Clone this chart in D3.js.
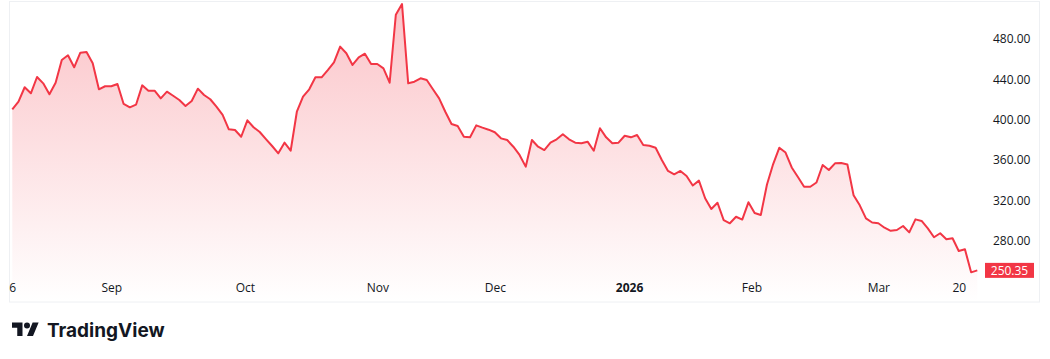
<!DOCTYPE html>
<html lang="en">
<head>
<meta charset="utf-8">
<title>Price chart</title>
<script src="https://cdn.jsdelivr.net/npm/d3@7"></script>
<style>
  body { margin: 0; background: #fff; }
  svg { display: block; font-family: "Open Sans", Roboto, sans-serif; }
  .axis text { fill: #131722; font-size: 12px; }
</style>
</head>
<body>
<script>
// daily closes
var prices = [
  410.2, 417.8, 432.1, 426.1, 442.3, 436.0, 425.1, 436.6, 459.2, 463.8,
  451.9, 466.4, 467.1, 455.9, 430.1, 433.1, 433.1, 435.3, 415.5, 412.2,
  414.8, 434.0, 428.7, 428.7, 421.1, 427.7, 423.7, 419.5, 413.5, 418.5,
  430.7, 424.4, 420.2, 412.8, 404.6, 390.4, 389.7, 383.0, 399.3, 392.4,
  387.7, 380.7, 373.8, 366.5, 377.1, 369.1, 407.8, 422.7, 430.1, 442.0,
  442.0, 449.2, 456.9, 472.4, 465.8, 454.2, 461.8, 465.4, 455.2, 455.2,
  450.9, 436.6, 504.1, 514.7, 436.0, 437.6, 441.0, 439.3, 430.1, 421.1,
  407.8, 395.6, 393.6, 383.0, 382.4, 394.3, 392.0, 390.0, 387.4, 381.4,
  379.7, 373.1, 364.9, 353.3, 379.7, 373.1, 369.8, 377.1, 380.4, 385.4,
  380.4, 377.1, 376.5, 378.1, 369.1, 391.4, 382.4, 376.5, 377.1, 384.0,
  382.4, 384.7, 374.8, 374.1, 372.1, 359.9, 349.0, 345.7, 349.0, 344.0,
  334.6, 339.4, 321.9, 311.3, 317.5, 300.3, 297.1, 303.6, 300.8, 317.9,
  307.3, 305.3, 335.6, 355.9, 372.1, 367.3, 352.5, 343.0, 333.4, 333.3,
  337.6, 354.9, 350.0, 356.6, 356.9, 355.4, 324.9, 314.9, 302.0, 297.9,
  297.1, 292.7, 289.6, 290.4, 294.4, 288.1, 301.0, 299.4, 292.1, 283.2,
  287.2, 281.2, 282.2, 269.6, 271.3, 248.4, 250.35
];

var yTicks = [280, 320, 360, 400, 440, 480];
var xTickIdx = [0, 16, 37.6, 59, 78, 99.7, 119.5, 140, 153];
var xTickLabels = ["6", "Sep", "Oct", "Nov", "Dec", "2026", "Feb", "Mar", "20"];
var boldLabels = ["2026"];

var w = 1050, h = 359;
var red = "#f23645";

var svg = d3.select("body").append("svg")
  .attr("width", w)
  .attr("height", h);

svg.append("rect").attr("width", w).attr("height", h).attr("fill", "#fff");

var x = d3.scaleLinear()
  .domain([0, prices.length - 1])
  .range([12.3, 977.3]);

var y = d3.scaleLinear()
  .domain([280, 480])
  .range([240.5, 39]);

var paneBottom = 302;

// gradient under the line
var defs = svg.append("defs");
var grad = defs.append("linearGradient")
  .attr("id", "fillGrad")
  .attr("gradientUnits", "userSpaceOnUse")
  .attr("x1", 0).attr("y1", 0)
  .attr("x2", 0).attr("y2", paneBottom);
grad.append("stop").attr("offset", "0%").attr("stop-color", red).attr("stop-opacity", 0.3);
grad.append("stop").attr("offset", "100%").attr("stop-color", red).attr("stop-opacity", 0.0);

defs.append("clipPath").attr("id", "paneClip")
  .append("rect").attr("x", 10).attr("y", 2).attr("width", 1030).attr("height", paneBottom - 2);

// frame
svg.append("rect")
  .attr("x", 9.5).attr("y", 1.5)
  .attr("width", 1030).attr("height", paneBottom - 1.5)
  .attr("fill", "none")
  .attr("stroke", "#eef0f3");

var area = d3.area()
  .x(function(d, i) { return x(i); })
  .y0(paneBottom)
  .y1(function(d) { return y(d); });

var line = d3.line()
  .x(function(d, i) { return x(i); })
  .y(function(d) { return y(d); });

var pane = svg.append("g").attr("clip-path", "url(#paneClip)");

pane.append("path")
  .datum(prices)
  .attr("d", area)
  .attr("fill", "url(#fillGrad)");

pane.append("path")
  .datum(prices)
  .attr("d", line)
  .attr("fill", "none")
  .attr("stroke", red)
  .attr("stroke-width", 2)
  .attr("stroke-linejoin", "round");

// price axis
var yAxis = d3.axisRight(y)
  .tickValues(yTicks)
  .tickFormat(d3.format(".2f"))
  .tickSize(0)
  .tickPadding(0);

svg.append("g")
  .attr("class", "axis")
  .attr("transform", "translate(993,0)")
  .call(yAxis)
  .attr("font-family", null)
  .attr("font-size", null)
  .call(function(g) { g.select(".domain").remove(); });

// time axis
var xAxis = d3.axisBottom(x)
  .tickValues(xTickIdx)
  .tickFormat(function(d, i) { return xTickLabels[i]; })
  .tickSize(0)
  .tickPadding(0);

var xg = svg.append("g")
  .attr("class", "axis")
  .attr("transform", "translate(0,283)")
  .call(xAxis)
  .attr("font-family", null)
  .attr("font-size", null)
  .call(function(g) { g.select(".domain").remove(); });

xg.selectAll("text")
  .style("font-weight", function(d, i) {
    return boldLabels.indexOf(xTickLabels[i]) >= 0 ? "bold" : "normal";
  });

// last price tag
var last = prices[prices.length - 1];
var tag = svg.append("g").attr("transform", "translate(985," + y(last) + ")");
tag.append("rect")
  .attr("x", 0).attr("y", -7.5)
  .attr("width", 49).attr("height", 15)
  .attr("fill", red);
tag.append("text")
  .attr("x", 24.5).attr("y", 0)
  .attr("dy", "0.35em")
  .attr("text-anchor", "middle")
  .attr("fill", "#fff")
  .style("font-size", "12px")
  .text(d3.format(".2f")(last));

// TradingView mark
var logo = svg.append("g").attr("transform", "translate(12,319.5) scale(0.75)");
logo.append("path")
  .attr("d", "M14 22H7V11H0V4h14v18zM28 22h-8l7.5-18h8L28 22z")
  .attr("fill", "#131722");
logo.append("circle")
  .attr("cx", 20).attr("cy", 8).attr("r", 4)
  .attr("fill", "#131722");

svg.append("text")
  .attr("x", 47)
  .attr("y", 337)
  .attr("fill", "#131722")
  .style("font-family", "Inter, Roboto, sans-serif")
  .style("font-weight", 700)
  .style("font-size", "19px")
  .text("TradingView");
</script>
</body>
</html>
